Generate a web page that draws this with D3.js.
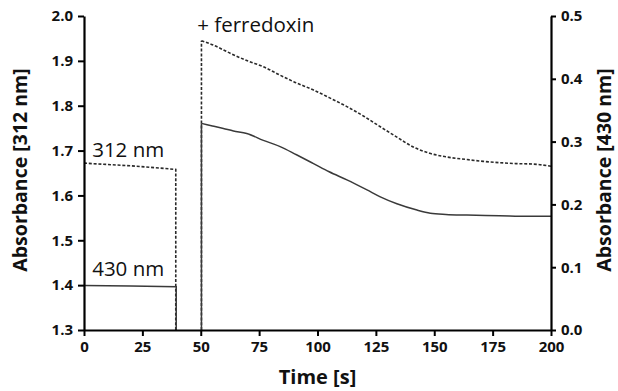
<!DOCTYPE html>
<html><head><meta charset="utf-8">
<script src="https://cdn.jsdelivr.net/npm/d3@7"></script>
<style>body{margin:0;background:#fff}svg{display:block}</style>
</head><body>
<script>
// 312 nm trace (left axis), before and after ferredoxin addition
const time312Before = [0, 10, 20, 30, 39.3, 39.3];
const abs312Before  = [1.672, 1.669, 1.666, 1.662, 1.658, 1.3];
const time312After = [50.3, 50.3, 55, 62.6, 70, 76.8, 84, 90, 98.3, 105, 112.6, 120, 126.9, 134, 141, 148, 155, 164, 171, 178, 185, 192, 200];
const abs312After  = [1.3, 1.945, 1.936, 1.917, 1.900, 1.887, 1.868, 1.853, 1.835, 1.818, 1.798, 1.776, 1.753, 1.730, 1.708, 1.694, 1.686, 1.680, 1.676, 1.673, 1.671, 1.670, 1.665];
// 430 nm trace (right axis)
const time430Before = [0, 20, 39.5, 39.5];
const abs430Before  = [0.071, 0.070, 0.069, 0.0];
const time430After = [50.3, 50.3, 55, 59.7, 64, 69.7, 76.8, 84, 91, 98.3, 105, 112.6, 121.2, 126.9, 134, 142.6, 148.3, 155, 164, 178, 190, 200];
const abs430After  = [0.0, 0.329, 0.325, 0.321, 0.317, 0.313, 0.302, 0.292, 0.279, 0.265, 0.252, 0.239, 0.223, 0.212, 0.201, 0.191, 0.186, 0.184, 0.183, 0.182, 0.181, 0.181];

const xTicks = [0, 25, 50, 75, 100, 125, 150, 175, 200];
const yLeftTicks = [1.3, 1.4, 1.5, 1.6, 1.7, 1.8, 1.9, 2.0];
const yRightTicks = [0.0, 0.1, 0.2, 0.3, 0.4, 0.5];

const W = 618, H = 391;
const m = {left: 84, right: 67, top: 16, bottom: 61};
const svg = d3.select("body").append("svg").attr("width", W).attr("height", H);

const x = d3.scaleLinear().domain([0, 200]).range([m.left, W - m.right]);
const yL = d3.scaleLinear().domain([1.3, 2.0]).range([H - m.bottom, m.top]);
const yR = d3.scaleLinear().domain([0, 0.5]).range([H - m.bottom, m.top]);

const font = "'Open Sans', sans-serif";

function drawPath(pts, y, dashed, curve) {
  svg.append("path")
    .attr("d", d3.line().curve(curve).x(d => x(d[0])).y(d => y(d[1]))(pts))
    .attr("fill", "none")
    .attr("stroke", dashed ? "#2a2a2a" : "#3a3a3a")
    .attr("stroke-width", dashed ? 1.6 : 1.5)
    .attr("stroke-dasharray", dashed ? "3,1.8" : null);
}
function drawBefore(ts, vs, y, dashed) {
  drawPath(ts.map((t, i) => [t, vs[i]]), y, dashed, d3.curveLinear);
}
function drawAfter(ts, vs, y, dashed) {
  const pts = ts.map((t, i) => [t, vs[i]]);
  drawPath(pts.slice(0, 2), y, dashed, d3.curveLinear);       // jump on addition
  drawPath(pts.slice(1), y, dashed, d3.curveMonotoneX);       // decay
}
drawBefore(time312Before, abs312Before, yL, true);
drawAfter(time312After, abs312After, yL, true);
drawBefore(time430Before, abs430Before, yR, false);
drawAfter(time430After, abs430After, yR, false);

function styleAxis(g) {
  g.selectAll(".domain").attr("stroke", "#000").attr("stroke-width", 2.2);
  g.selectAll(".tick line").attr("stroke", "#000").attr("stroke-width", 2);
  g.selectAll(".tick text").attr("font-family", font).attr("font-weight", "bold")
    .attr("font-size", "15px").attr("fill", "#111");
}

svg.append("g").attr("transform", `translate(0,${H - m.bottom})`)
  .call(d3.axisBottom(x).tickValues(xTicks).tickFormat(d3.format("d")).tickSize(6).tickSizeOuter(0).tickPadding(5))
  .call(styleAxis);
svg.append("g").attr("transform", `translate(${m.left},0)`)
  .call(d3.axisLeft(yL).tickValues(yLeftTicks).tickFormat(d3.format(".1f")).tickSize(6).tickSizeOuter(0).tickPadding(5))
  .call(styleAxis);
svg.append("g").attr("transform", `translate(${W - m.right},0)`)
  .call(d3.axisRight(yR).tickValues(yRightTicks).tickFormat(d3.format(".1f")).tickSize(5).tickSizeOuter(0).tickPadding(5))
  .call(styleAxis);

// axis titles
svg.append("text").attr("x", (m.left + W - m.right) / 2).attr("y", 384)
  .attr("text-anchor", "middle").attr("font-family", font).attr("font-weight", "bold")
  .attr("font-size", "20px").attr("fill", "#111").text("Time [s]");
svg.append("text").attr("transform", `translate(27,170) rotate(-90)`)
  .attr("text-anchor", "middle").attr("font-family", font).attr("font-weight", "bold")
  .attr("font-size", "19.5px").attr("fill", "#111").text("Absorbance [312 nm]");
svg.append("text").attr("transform", `translate(611,170) rotate(-90)`)
  .attr("text-anchor", "middle").attr("font-family", font).attr("font-weight", "bold")
  .attr("font-size", "19.5px").attr("fill", "#111").text("Absorbance [430 nm]");

// annotations
const ann = (tx, ty, s) => svg.append("text").attr("x", tx).attr("y", ty)
  .attr("font-family", font).attr("font-size", "20.5px").attr("fill", "#111").text(s);
ann(x(3.5), 157, "312 nm");
ann(x(3.5), 276, "430 nm");
ann(x(48.5), 32, "+ ferredoxin");
</script>
</body></html>
